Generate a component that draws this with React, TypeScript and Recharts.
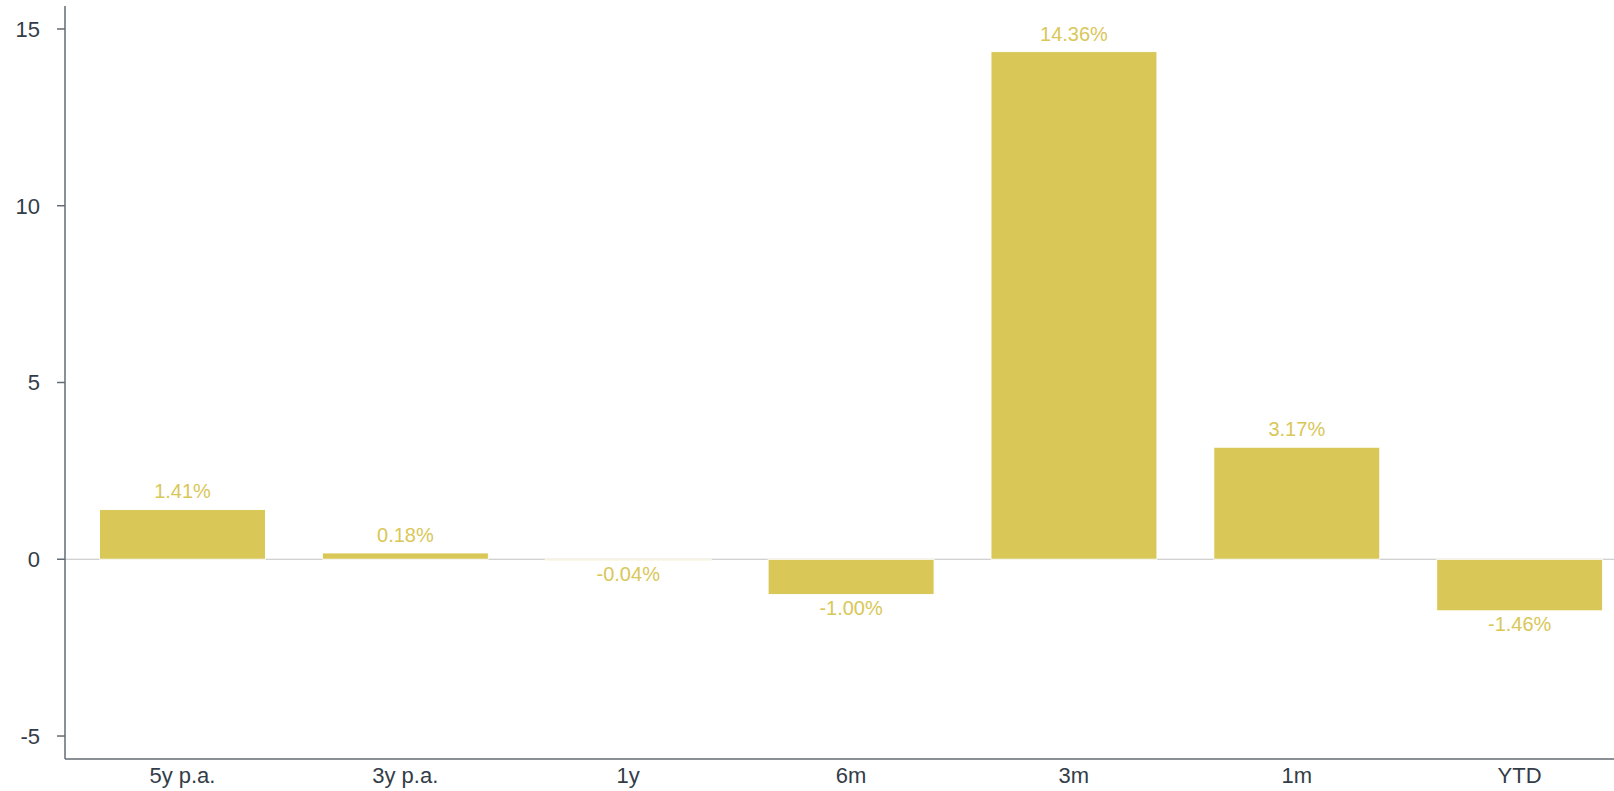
import { Bar, BarChart, CartesianGrid, LabelList, XAxis, YAxis } from "recharts";

const periods = ["5y p.a.", "3y p.a.", "1y", "6m", "3m", "1m", "YTD"];
const returns = [1.41, 0.18, -0.04, -1.0, 14.36, 3.17, -1.46];
const yTicks = [-5, 0, 5, 10, 15];

const BAR_COLOR = "#d9c757";
const TEXT_COLOR = "#333d48";
const AXIS_COLOR = "#656b73";

const data = periods.map((p, i) => ({ period: p, value: returns[i] }));

function ValueLabel(props: any) {
  const { x, y, width, height, value } = props;
  if (value == null) return null;
  const top = Math.min(y, y + height);
  const bottom = Math.max(y, y + height);
  const cx = x + width / 2;
  const ty = value >= 0 ? top - 11 : bottom + 20;
  return (
    <text
      x={cx}
      y={ty}
      textAnchor="middle"
      fontSize={20}
      fill={BAR_COLOR}
      fontFamily="'Liberation Sans', Arial, sans-serif"
    >
      {value.toFixed(2)}%
    </text>
  );
}

export default function App() {
  return (
    <div
      style={{
        position: "fixed",
        left: 0,
        top: 0,
        width: 1614,
        height: 791,
        overflow: "hidden",
        background: "#fff",
        fontFamily: "'Liberation Sans', Arial, sans-serif",
      }}
    >
      <BarChart
        width={1631}
        height={791}
        data={data}
        margin={{ top: 6, right: 0, bottom: 0, left: 0 }}
        barCategoryGap="12.8%"
      >
        <CartesianGrid
          vertical={false}
          horizontalValues={[0]}
          stroke="#c2c2c2"
          strokeWidth={1.2}
        />
        <XAxis
          dataKey="period"
          height={32}
          padding={{ left: 6, right: 0 }}
          tickLine={false}
          tickSize={0}
          tickMargin={8}
          axisLine={{ stroke: AXIS_COLOR, strokeWidth: 1.5 }}
          tick={{ fontSize: 22, fill: TEXT_COLOR }}
          interval={0}
        />
        <YAxis
          width={65}
          type="number"
          domain={[-5.65, 15.65]}
          ticks={yTicks}
          allowDataOverflow
          tickSize={8}
          tickMargin={17}
          axisLine={{ stroke: AXIS_COLOR, strokeWidth: 1.5 }}
          tickLine={{ stroke: AXIS_COLOR, strokeWidth: 1.5 }}
          tick={{ fontSize: 22, fill: TEXT_COLOR }}
        />
        <Bar
          dataKey="value"
          fill={BAR_COLOR}
          stroke="#ffffff"
          strokeWidth={1}
          isAnimationActive={false}
        >
          <LabelList dataKey="value" content={ValueLabel} />
        </Bar>
      </BarChart>
    </div>
  );
}
